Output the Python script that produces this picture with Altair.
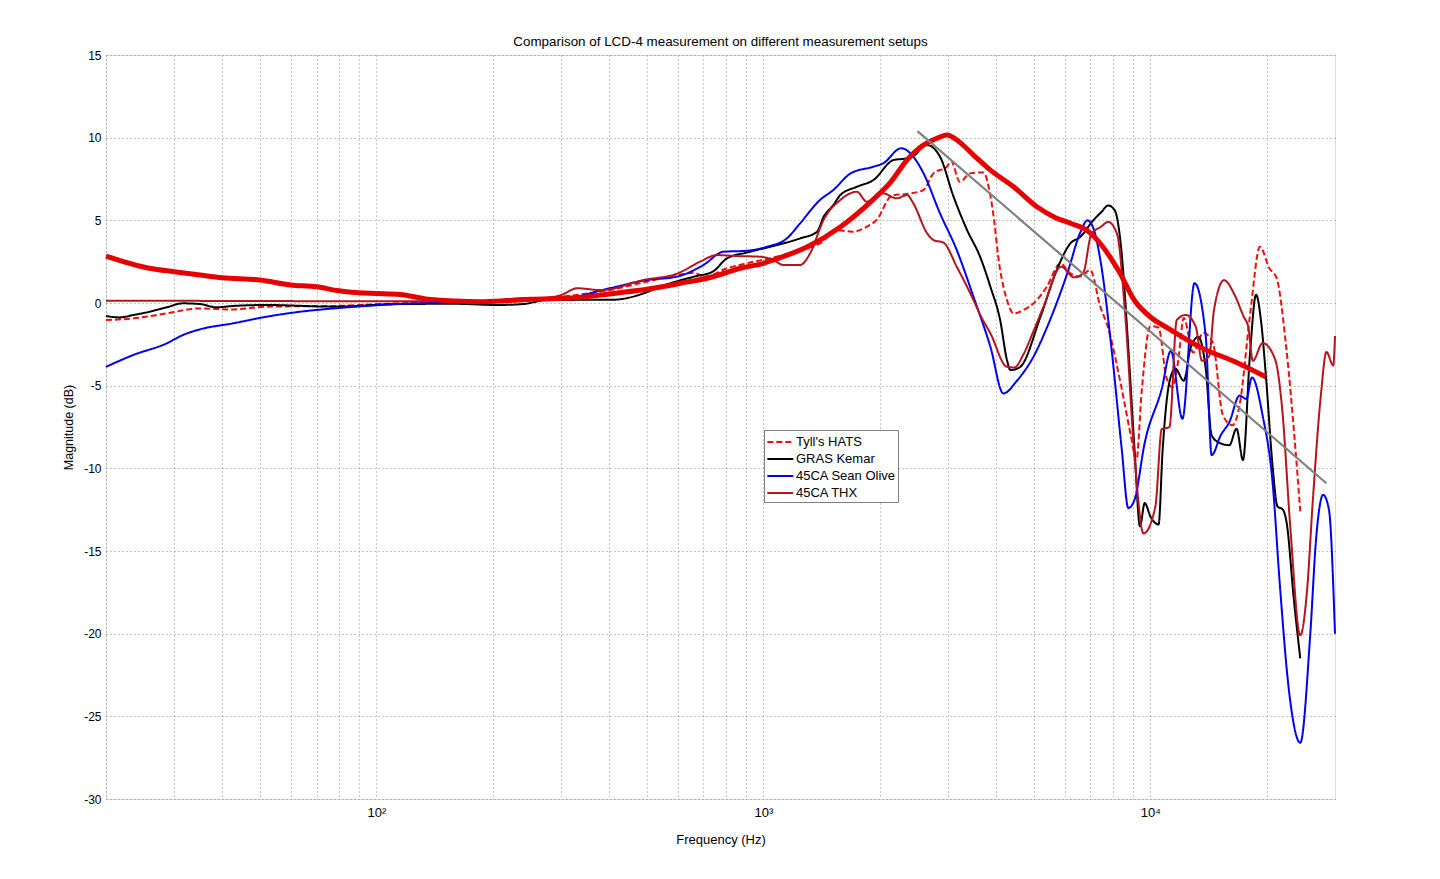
import altair as alt
import pandas as pd

series_names = ["Tyll's HATS", "GRAS Kemar", "45CA Sean Olive", "45CA THX"]
series_colors = ["#f20c0c", "#000000", "#0000f0", "#b5141c"]

# Tyll's HATS (dashed red)
hats_f = [20, 23.5, 28.7, 34.9, 42.6, 52, 77, 115, 200, 300, 400, 500, 600, 660, 705, 805, 905,
          1083, 1244, 1400, 1548, 1700, 1850, 1960, 2150, 2350, 2590, 2750, 2980, 3050, 3220,
          3420, 3700, 3890, 4090, 4260, 4430, 4700, 5090, 5400, 5850, 6210, 6590, 6990, 7420,
          7780, 8400, 8900, 9200, 9500, 10000, 10500, 11000, 11400, 11800, 12200, 12900, 13700,
          14500, 15400, 16300, 17000, 18100, 19200, 20300, 21200, 22400, 23700, 24400]
hats_db = [-1.03, -0.93, -0.63, -0.33, -0.39, -0.22, -0.18, -0.02, 0.1, 0.38, 0.78, 1.29, 1.69,
           1.83, 1.59, 2.1, 2.4, 2.8, 3.2, 3.6, 4.41, 4.31, 4.61, 5.02, 6.5, 6.6, 6.83, 7.84, 8.24,
           8.6, 7.33, 7.84, 7.9, 6.03, 2.0, 0.18, -0.63, -0.43, 0.18, 0.98, 2.4, 1.79, 1.6, 2.0,
           -0.2, -1.52, -5.0, -8.0, -9.5, -5.3, -1.4, -1.5, -4.5, -5.1, -3.5, -0.9, -3.0, -1.8,
           -2.4, -6.8, -7.4, -6.2, -0.7, 3.4, 2.1, 1.5, -2.5, -8.8, -12.6]

# GRAS Kemar (black)
kemar_f = [20, 21.7, 23.5, 25.9, 28.7, 31.6, 34.9, 38.6, 42.6, 52, 77, 115, 160, 205, 240, 275,
           410, 490, 540, 660, 740, 805, 905, 1000, 1083, 1244, 1375, 1430, 1517, 1580, 1744,
           1925, 2170, 2350, 2490, 2570, 2650, 2860, 3100, 3360, 3630, 3860, 4090, 4260, 4350,
           4610, 5200, 5730, 6210, 6590, 7130, 7470, 7780, 8090, 8430, 8770, 9100, 9400, 9670,
           10000, 10500, 10750, 11200, 11600, 12200, 12700, 13300, 13900, 14400, 15060, 16000,
           16700, 17350, 18100, 18750, 19300, 19900, 20700, 21300, 22000, 22500, 23500, 24400]
kemar_db = [-0.79, -0.87, -0.73, -0.53, -0.26, -0.02, -0.06, -0.26, -0.18, -0.12, -0.22, -0.06,
            -0.05, -0.12, -0.06, 0.18, 0.2, 0.58, 0.98, 1.59, 1.9, 2.7, 3.05, 3.3, 3.5, 3.91, 4.3,
            5.2, 5.93, 6.53, 7.03, 7.44, 8.65, 8.75, 9.05, 9.45, 9.55, 8.85, 6.43, 4.41, 2.8, 0.98,
            -1.03, -3.45, -4.06, -3.86, -0.83, 2.0, 3.6, 4.0, 5.02, 5.5, 5.9, 5.6, 3.0, -2.73,
            -8.84, -13.5, -12.1, -12.9, -13.4, -9.0, -4.78, -3.97, -4.7, -2.73, -2.05, -3.97, -8.0,
            -8.45, -8.6, -7.6, -9.5, -3.0, 0.5, -1.0, -4.5, -9.9, -12.3, -12.5, -13.3, -18.0, -21.5]

# 45CA Sean Olive (blue)
olive_f = [20, 23.5, 28.7, 31.6, 34.9, 42.6, 52, 63.4, 77.3, 94.2, 115, 185, 250, 300, 400, 500,
           597, 700, 788, 905, 1020, 1150, 1244, 1400, 1515, 1680, 1922, 2040, 2270, 2420, 2593,
           2860, 3160, 3490, 3860, 4170, 4520, 5000, 5400, 6100, 6600, 6870, 7130, 7450, 7930,
           8430, 8770, 9100, 9670, 10700, 11300, 12100, 13000, 13900, 14400, 15200, 16000, 17000,
           17700, 18300, 19500, 20700, 21600, 22800, 24400, 25900, 26800, 27960, 28940, 30000]
olive_db = [-3.86, -3.15, -2.44, -1.94, -1.6, -1.23, -0.83, -0.53, -0.33, -0.18, -0.06, 0.08, 0.3,
            0.28, 0.89, 1.39, 1.59, 2.3, 3.1, 3.16, 3.4, 3.91, 4.82, 6.23, 6.83, 7.84, 8.24, 8.45,
            9.36, 8.95, 7.84, 5.42, 3.2, 0.38, -2.65, -5.47, -4.7, -3.2, -1.5, 1.8, 4.3, 5.0, 4.5,
            2.4, -2.7, -8.8, -12.4, -11.9, -8.45, -5.19, -2.9, -7.0, 1.2, -2.0, -9.2, -8.0, -7.2,
            -5.6, -5.8, -4.5, -6.8, -10.9, -17.0, -23.4, -26.6, -20.0, -14.3, -11.6, -12.5, -20.0]

# 45CA THX (dark red)
thx_f = [20, 50, 100, 200, 260, 300, 330, 380, 490, 600, 686, 758, 853, 980, 1060, 1127, 1244,
         1320, 1430, 1580, 1744, 1850, 2040, 2210, 2350, 2440, 2650, 2750, 2920, 3160, 3490,
         3630, 3860, 4260, 4450, 4700, 5000, 5300, 5880, 6350, 6700, 7040, 7450, 7780, 8200,
         8610, 9100, 9600, 10300, 10700, 11200, 11700, 12350, 13100, 13600, 14200, 14600, 15500,
         16500, 17400, 17900, 18400, 19500, 21000, 21900, 23000, 24400, 25400, 26300, 27600,
         28500, 29700, 30000]
thx_db = [0.14, 0.12, 0.1, 0.1, 0.25, 0.48, 0.89, 0.78, 1.39, 1.79, 2.5, 2.9, 2.84, 2.8, 2.6, 2.3,
          2.3, 3.0, 5.02, 6.23, 6.73, 6.13, 6.63, 6.33, 6.53, 6.03, 4.21, 3.81, 3.65, 2.19, 0.18,
          -0.7, -1.84, -3.86, -3.9, -3.1, -1.64, -0.2, 2.2, 1.55, 1.8, 4.18, 4.61, 4.9, 4.18,
          -0.71, -9.26, -13.94, -12.32, -7.63, -7.5, -1.03, -0.72, -1.44, -3.5, -3.2, -0.43, 1.38,
          0.5, -0.8, -1.44, -3.5, -2.42, -3.4, -6.35, -13.6, -20.1, -17.4, -11.9, -5.5, -2.96,
          -3.78, -2.0]

# Thick red curve (no legend entry)
avg_f = [20, 25.9, 30, 35, 40, 50, 60, 70, 80, 90, 100, 115, 134, 160, 185, 220, 250, 330, 410,
         500, 610, 740, 870, 1000, 1060, 1300, 1580, 1930, 2130, 2350, 2590, 2800, 2980, 3160,
         3490, 3860, 4430, 5090, 5620, 6210, 6850, 7420, 8300, 9100, 10080, 11100, 13600, 16600,
         19900]
avg_db = [2.84, 2.1, 1.89, 1.69, 1.53, 1.39, 1.09, 0.98, 0.74, 0.62, 0.58, 0.52, 0.25, 0.12, 0.08,
          0.15, 0.22, 0.32, 0.58, 0.83, 1.19, 1.59, 2.1, 2.4, 2.6, 3.4, 4.6, 6.3, 7.3, 8.65, 9.55,
          9.95, 10.16, 9.86, 8.95, 8.04, 7.03, 5.82, 5.22, 4.82, 4.4, 3.6, 1.9, 0.15, -0.91, -1.52,
          -2.73, -3.57, -4.48]

# Gray trend line
trend_f = [2500, 28500]
trend_db = [10.4, -10.9]

x_grid = [20, 30, 40, 50, 60, 70, 80, 90, 100, 200, 300, 400, 500, 600, 700, 800, 900,
          1000, 2000, 3000, 4000, 5000, 6000, 7000, 8000, 9000, 10000, 20000]
y_ticks = [-30, -25, -20, -15, -10, -5, 0, 5, 10, 15]

rows = []
for name, fs, ds in [(series_names[0], hats_f, hats_db), (series_names[1], kemar_f, kemar_db),
                     (series_names[2], olive_f, olive_db), (series_names[3], thx_f, thx_db)]:
    for f, d in zip(fs, ds):
        rows.append({"series": name, "freq": f, "db": d})
df = pd.DataFrame(rows)
avg_df = pd.DataFrame({"freq": avg_f, "db": avg_db})
trend_df = pd.DataFrame({"freq": trend_f, "db": trend_db})

FONT = "Liberation Sans"
x_scale = alt.Scale(type="log", domain=[20, 30000], nice=False)
y_scale = alt.Scale(domain=[-30, 15], nice=False)

x_axis = alt.Axis(
    values=x_grid,
    labelExpr="datum.value == 100 ? '10²' : datum.value == 1000 ? '10³' : datum.value == 10000 ? '10⁴' : ''",
    grid=True, gridDash=[1, 3], gridColor="#8a8a8a", gridOpacity=1,
    ticks=False, domain=False, labelOverlap=False, labelFlush=False,
    labelFont=FONT, labelFontSize=13, labelColor="#000", labelPadding=7,
    title="Frequency (Hz)", titleFont=FONT, titleFontSize=13, titleFontWeight="normal",
    titleColor="#000", titlePadding=14,
)
y_axis = alt.Axis(
    values=y_ticks, labelExpr="datum.value + ''",
    grid=True, gridDash=[1, 3], gridColor="#8a8a8a", gridOpacity=1,
    ticks=False, domain=False, labelOverlap=False, labelFlush=False,
    labelFont=FONT, labelFontSize=12, labelColor="#000", labelPadding=5,
    title="Magnitude (dB)", titleFont=FONT, titleFontSize=12.5, titleFontWeight="normal",
    titleColor="#000", titlePadding=8,
)

base_x = alt.X("freq:Q", scale=x_scale, axis=x_axis)
base_y = alt.Y("db:Q", scale=y_scale, axis=y_axis)

legend = alt.Legend(
    orient="none", legendX=658, legendY=375, title=None,
    symbolType="M-1,0H2", symbolSize=300, symbolStrokeWidth=2,
    labelFont=FONT, labelFontSize=13, labelColor="#000", labelOffset=10,
    strokeColor="#808080", fillColor="#ffffff", padding=2, rowPadding=0,
)

lines = alt.Chart(df).mark_line(strokeWidth=2, interpolate="monotone").encode(
    x=base_x, y=base_y,
    color=alt.Color("series:N", scale=alt.Scale(domain=series_names, range=series_colors), legend=legend),
    strokeDash=alt.StrokeDash("series:N", scale=alt.Scale(domain=series_names, range=[[6, 3], [1, 0], [1, 0], [1, 0]]), legend=legend),
)

trend = alt.Chart(trend_df).mark_line(strokeWidth=2.2, color="#808080").encode(
    x=alt.X("freq:Q", scale=x_scale), y=alt.Y("db:Q", scale=y_scale))

avg = alt.Chart(avg_df).mark_line(strokeWidth=5, color="#e60000", interpolate="monotone").encode(
    x=alt.X("freq:Q", scale=x_scale), y=alt.Y("db:Q", scale=y_scale))

chart = alt.layer(lines, avg, trend).properties(
    width=1229, height=744,
    title=alt.TitleParams("Comparison of LCD-4 measurement on different measurement setups",
                          font=FONT, fontSize=13.4, fontWeight="normal", color="#000", offset=1),
    padding={"left": 98, "top": 47, "right": 20, "bottom": 70},
    autosize=alt.AutoSizeParams(type="none"),
).configure_view(stroke="#707070", strokeWidth=1).configure(background="white")

chart.save("out.html", embed_options={"renderer": "svg", "actions": False})
